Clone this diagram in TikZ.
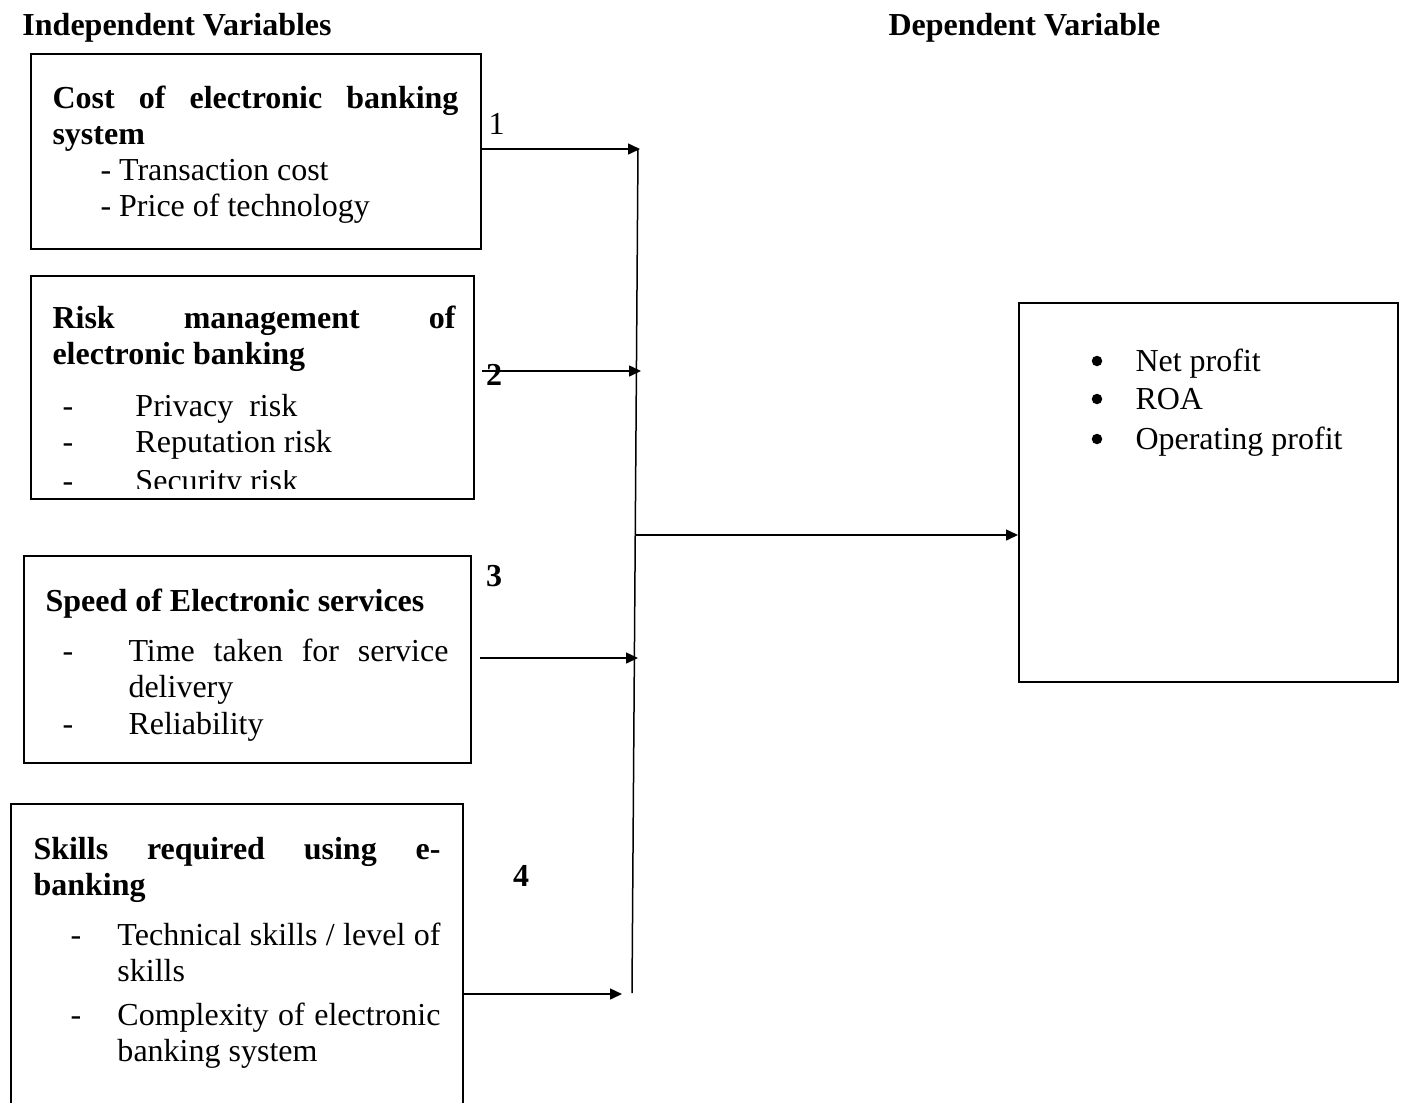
\documentclass[tikz,border=0pt]{standalone}
\usepackage{fontspec}
\setmainfont{Liberation Serif}
\usetikzlibrary{arrows.meta}
\newcommand\pixelSize{0.4pt}
\newcommand\bodyFont{\fontsize{12.8}{14.4}\selectfont}
\hyphenpenalty=10000

\begin{document}
\begin{tikzpicture}[x=\pixelSize, y=-\pixelSize,
    every node/.style={font=\bodyFont, inner sep=0pt},
    varbox/.style={draw, line width=0.8pt, anchor=north west},
    boxtitle/.style={anchor=north west, text width=#1, align=justify,
        font=\bodyFont\bfseries, execute at begin node=\strut},
    itemtext/.style={anchor=north west, text width=#1, align=justify, execute at begin node=\strut},
    bold/.style={font=\bodyFont\bfseries},
    bulletdot/.style={circle, draw=none, fill=black, minimum size=4.2pt},
    link/.style={line width=0.6pt, -{Triangle[length=4.8pt,width=4.4pt]}},
]
    \useasboundingbox (0,0) rectangle (1402,1102);
    % Headings
    \node[bold, anchor=base west] (indep) at (22,35) {Independent Variables};
    \node[bold, anchor=base west] (dep) at (888,35) {Dependent Variable};
    % Boxes of the independent variables
    \node[varbox, minimum width=180pt, minimum height=78pt] (cost) at (30,53) {};
    \node[varbox, minimum width=177.2pt, minimum height=89.2pt] (risk) at (30,275) {};
    \node[varbox, minimum width=178.8pt, minimum height=82.8pt] (speed) at (23,555) {};
    \node[varbox, minimum width=180.8pt, minimum height=122.8pt] (skills) at (10,803) {};
    % Box of the dependent variable
    \node[varbox, minimum width=151.6pt, minimum height=151.6pt] (profit) at (1018,302) {};
    % Box titles
    \node[boxtitle=162.4pt] (costTitle) at (52,83) {Cost of electronic banking\linebreak system};
    \node[boxtitle=161.2pt] (riskTitle) at (52,303) {Risk management of\linebreak electronic banking};
    \node[boxtitle=161.2pt] (speedTitle) at (45,586) {Speed of Electronic services};
    \node[boxtitle=162.8pt] (skillsTitle) at (33,834) {Skills required using e-\linebreak banking};
    % Items of the cost box
    \node[anchor=base west] (cost1) at (100,180) {- Transaction cost};
    \node[anchor=base west] (cost2) at (100,216) {- Price of technology};
    % Items of the risk box, the last one cut by the box
    \foreach \y/\t [count=\i] in {416/Privacy\ \ risk, 452/Reputation risk} {
        \node[anchor=base west] (riskDash\i) at (62,\y) {-};
        \node[anchor=base west] (risk\i) at (135,\y) {\t};
    }
    \begin{scope}
        \clip (30,470) rectangle (473,488);
        \node[anchor=base west] (riskDash3) at (62,491) {-};
        \node[anchor=base west] (risk3) at (135,491) {Security risk};
    \end{scope}
    % Items of the speed box
    \node[anchor=base west] (speedDash1) at (62,661) {-};
    \node[itemtext=128pt] (speed1) at (128,636) {Time taken for service\linebreak delivery};
    \node[anchor=base west] (speedDash2) at (62,734) {-};
    \node[anchor=base west] (speed2) at (128,734) {Reliability};
    % Items of the skills box
    \node[anchor=base west] (skillsDash1) at (70,945) {-};
    \node[itemtext=129.2pt] (skills1) at (117,920) {Technical skills / level of\linebreak skills};
    \node[anchor=base west] (skillsDash2) at (70,1025) {-};
    \node[itemtext=129.2pt] (skills2) at (117,1000) {Complexity of electronic\linebreak banking system};
    % Items of the profit box
    \foreach \y/\t [count=\i] in {371/Net profit, 409/ROA, 449/Operating profit} {
        \node[bulletdot] (bullet\i) at (1097,\y-10) {};
        \node[anchor=base west] (profit\i) at (1135,\y) {\t};
    }
    % Path numbers
    \node[anchor=base west] (num1) at (488,134) {1};
    \node[bold, anchor=base] (num2) at (494,385) {2};
    \node[bold, anchor=base] (num3) at (494,586) {3};
    \node[bold, anchor=base] (num4) at (521,886) {4};
    % Collecting line and arrows
    \coordinate (top) at (638,149);
    \coordinate (bottom) at (632,993);
    \draw[line width=0.6pt] (top) -- (bottom);
    \coordinate (in1) at (640,149);
    \coordinate (in2) at (641,371);
    \coordinate (in3) at (638,658);
    \coordinate (in4) at (622,994);
    \coordinate (out) at (636,535);
    \draw[link] (cost.east |- in1) -- (in1);
    \draw[link, shorten <=2.8pt] (risk.east |- in2) -- (in2);
    \draw[link, shorten <=3.2pt] (speed.east |- in3) -- (in3);
    \draw[link] (skills.east |- in4) -- (in4);
    \draw[link] (out) -- (profit.west |- out);
\end{tikzpicture}
\end{document}
